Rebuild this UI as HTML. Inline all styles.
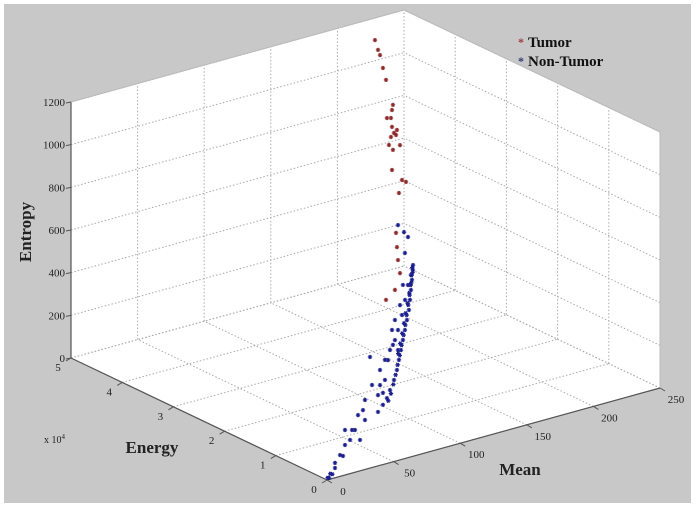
<!DOCTYPE html>
<html><head><meta charset="utf-8"><style>
html,body{margin:0;padding:0;background:#fff;}
svg{display:block;font-family:"Liberation Serif",serif;}
</style></head><body>
<svg id="chart" width="695" height="508" viewBox="0 0 695 508">
<rect x="4" y="4" width="687" height="499" fill="#c8c8c8"/>
<g id="box"></g><g id="grid"></g><g id="axes"></g><g id="pts"></g>
<g font-weight="bold" font-size="15">
<text x="518" y="46" fill="#a04040" font-size="12">*</text>
<text x="528" y="47" fill="#111">Tumor</text>
<text x="518" y="65" fill="#304070" font-size="12">*</text>
<text x="528" y="66" fill="#111">Non-Tumor</text>
</g>
</svg>
<script>
// data: mean, energy (x1e4), entropy
const tumorMean=[36,38.3,39.8,42,44.3,49.5,48.8,45,48,48.8,52.5,50.3,48,51.8,46.5,49.5,54.8,48.8,56.3,59.3,54,51.8,52.5,53.3,51,44.3,54.8];
const tumorEnergy=[0,0,0,0,0,0,0,0,0,0,0,0,0,0,0,0,0,0,0,0,0,0,0,0,0,0,0];
const tumorEntropy=[2000,1950,1923,1859,1799,1673,1650,1619,1614,1571,1550,1540,1525,1528,1490,1462,1475,1369,1309,1295,1252,1069,1001,939,803,768,875];
const nonMean=[1.5,6,9.8,13.5,18.8,23.3,28.5,33.8,39.8,43.5,47.3,51,53.3,56.3,58.6,60.8,63,64.6,
53.3,57.8,58.5,60.8,57,32.3,39.8,43.5,38.3,42,21,24.8,28.5,13.5,12,6,17.3,27,51,54.8,48.8,53.3,45.8,49.5,
64.5,63.8,63,62.3,61.5,60,58.5,57,55.5,54,52.5,50.3,47.3,45,42,38.3,0.5,2.5,4,
64,63.5,62.8,62,61,59.8,58.8,57.5,56,54.6,53,51.5,49.8,48,46,64.2,63.2,61.8,60.5,59,57.8,56.5,55,53.5];
const nonEnergy=nonMean.map(()=>0);
const nonEntropy=[7,46,100,141,202,264,326,387,447,488,528,568,611,676,743,809,852,896,
1103,1062,963,1034,816,521,376,394,332,336,198,145,232,211,92,70,158,281,662,725,619,517,483,548,
873,828,782,737,691,646,602,558,513,470,425,382,340,306,280,253,10,25,20,
885,850,805,760,715,670,625,580,535,490,448,404,362,322,292,862,815,770,725,680,635,590,545,500];
const entropyTicks=[0,200,400,600,800,1000,1200];
const energyTicks=[0,1,2,3,4,5];
const meanTicks=[0,50,100,150,200,250];

const NS="http://www.w3.org/2000/svg";
const O=[327,480], EV=[-256,-122], MV=[333,-92], ZH=256;
const EMAX=5, MMAX=250, ZMAX=1200;
function P(m,e,z){return [O[0]+EV[0]*e/EMAX+MV[0]*m/MMAX, O[1]+EV[1]*e/EMAX+MV[1]*m/MMAX - ZH*z/ZMAX];}
function mk(tag,attrs,parent){const el=document.createElementNS(NS,tag);for(const k in attrs)el.setAttribute(k,attrs[k]);document.getElementById(parent).appendChild(el);return el;}
function line(a,b,parent,stroke,dash,w){return mk('line',{x1:a[0],y1:a[1],x2:b[0],y2:b[1],stroke:stroke,'stroke-width':w||1,'stroke-dasharray':dash||'none'},parent);}

const poly=[P(0,5,ZMAX),P(250,5,ZMAX),P(250,0,ZMAX),P(250,0,0),P(0,0,0),P(0,5,0)];
const face=mk('polygon',{points:poly.map(p=>p.join(',')).join(' '),fill:'#fff'},'box');


const G='#aaa',D='1.5,2';
meanTicks.forEach(m=>{const l=line(P(m,0,0),P(m,5,0),'grid',G,D);});
energyTicks.forEach(e=>{const l=line(P(0,e,0),P(250,e,0),'grid',G,D);});
meanTicks.forEach(m=>{const l=line(P(m,5,0),P(m,5,ZMAX),'grid',G,D);});
entropyTicks.forEach(z=>{const l=line(P(0,5,z),P(250,5,z),'grid',G,D);});
energyTicks.forEach(e=>{const l=line(P(250,e,0),P(250,e,ZMAX),'grid',G,D);});
entropyTicks.forEach(z=>{const l=line(P(250,0,z),P(250,5,z),'grid',G,D);});
[[P(0,5,0),P(0,5,ZMAX),'entropy-axis-line'],[P(0,0,0),P(0,5,0),'energy-axis-line'],[P(0,0,0),P(250,0,0),'mean-axis-line']].forEach(a=>{const l=line(a[0],a[1],'axes','#555',null,1.2);});
[[P(0,5,ZMAX),P(250,5,ZMAX)],[P(250,5,ZMAX),P(250,0,ZMAX)],[P(250,0,ZMAX),P(250,0,0)]].forEach(a=>{const l=line(a[0],a[1],'axes','#bbb',null,1);});
function txt(x,y,s,anchor,size,weight,name){const t=mk('text',{x:x,y:y,'text-anchor':anchor,'font-size':size,'font-weight':weight||'normal',fill:'#222'},'axes');t.textContent=s;return t;}
entropyTicks.forEach(z=>{const p=P(0,5,z);line(p,[p[0]-5,p[1]+1],'axes','#555');txt(p[0]-6,p[1]+4,String(z),'end',11,'normal','entropy-tick-label');});
energyTicks.forEach(e=>{const p=P(0,e,0);line(p,[p[0]-5,p[1]+3],'axes','#555');txt(p[0]-13,p[1]+13,String(e),'middle',11,'normal','energy-tick-label');});
meanTicks.forEach(m=>{const p=P(m,0,0);line(p,[p[0]+5,p[1]+3],'axes','#555');txt(p[0]+16,p[1]+15,String(m),'middle',11,'normal','mean-tick-label');});
txt(152,453,'Energy','middle',17,'bold','energy-axis-title');
txt(520,475,'Mean','middle',17,'bold','mean-axis-title');
const t=txt(0,0,'Entropy','middle',17,'bold','entropy-axis-title');t.setAttribute('transform','translate(31,232) rotate(-90)');
const xt=txt(44,443,'x 10','start',10,'normal','energy-exponent-label');
const sup=mk('tspan',{dy:-4,'font-size':7},'axes');sup.textContent='4';xt.appendChild(sup);
function star(m,e,z,color,name){const p=P(m,e,z);const g=mk('g',{stroke:color,'stroke-width':1.3},'pts');
 const r=2.2;[[r,0],[r*0.5,r*0.87],[-r*0.5,r*0.87]].forEach(d=>{const l=document.createElementNS(NS,'line');l.setAttribute('x1',p[0]-d[0]);l.setAttribute('y1',p[1]-d[1]);l.setAttribute('x2',p[0]+d[0]);l.setAttribute('y2',p[1]+d[1]);g.appendChild(l);});}
nonMean.forEach((m,i)=>star(m,nonEnergy[i],nonEntropy[i],'#1a1f8c','point-non-tumor'));
tumorMean.forEach((m,i)=>star(m,tumorEnergy[i],tumorEntropy[i],'#8c2a2a','point-tumor'));
</script>
</body></html>
